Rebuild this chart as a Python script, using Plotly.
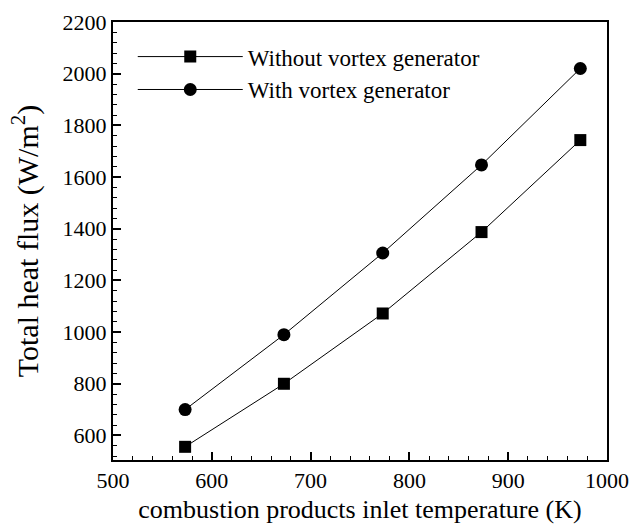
import plotly.graph_objects as go

temperature_K = [573, 673, 773, 873, 973]
without_vg = [556, 800, 1072, 1387, 1743]
with_vg = [700, 990, 1306, 1647, 2020]
series_names = ["Without vortex generator", "With vortex generator"]

font_family = "Liberation Serif"

fig = go.Figure()
fig.add_trace(go.Scatter(
    x=temperature_K, y=without_vg, name=series_names[0], mode="lines+markers",
    line=dict(color="black", width=1),
    marker=dict(symbol="square", size=12, color="black"),
))
fig.add_trace(go.Scatter(
    x=temperature_K, y=with_vg, name=series_names[1], mode="lines+markers",
    line=dict(color="black", width=1),
    marker=dict(symbol="circle", size=13, color="black"),
))

axis_common = dict(
    showgrid=False, zeroline=False, showline=True, linecolor="black", linewidth=2,
    mirror=True, ticks="inside", ticklen=8, tickwidth=2, tickcolor="black",
    tickfont=dict(family=font_family, size=22, color="black"),
    automargin=False,
)

fig.update_xaxes(
    range=[500, 1000], tick0=500, dtick=100,
    minor=dict(ticks="inside", ticklen=4, tickwidth=1, dtick=20, tickcolor="black"),
    title=dict(text="combustion products inlet temperature (K)",
               font=dict(family=font_family, size=26, color="black")),
    **axis_common,
)
fig.update_yaxes(
    range=[505, 2200], tick0=0, dtick=200,
    minor=dict(ticks="inside", ticklen=4, tickwidth=1, dtick=40, tickcolor="black"),
    title=dict(text="Total heat flux (W/m<sup>2</sup>)",
               font=dict(family=font_family, size=30, color="black")),
    **axis_common,
)

fig.update_layout(
    width=630, height=524,
    margin=dict(l=113, r=23, t=22, b=64),
    paper_bgcolor="white", plot_bgcolor="white",
    showlegend=True,
    legend=dict(
        x=0.04, y=0.97, xanchor="left", yanchor="top",
        bgcolor="rgba(0,0,0,0)", itemwidth=105,
        font=dict(family=font_family, size=23, color="black"),
        tracegroupgap=0,
    ),
)

fig.write_html("out.html")
